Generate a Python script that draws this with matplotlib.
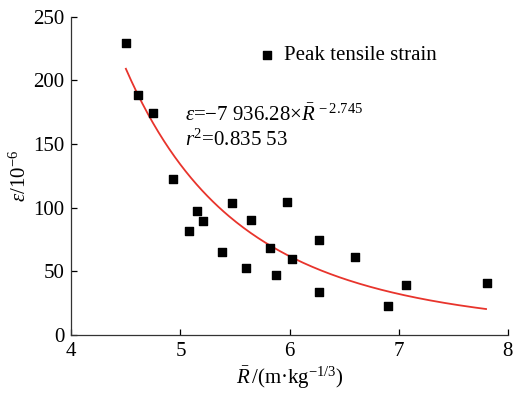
import numpy as np
import matplotlib
matplotlib.use('Agg')
import matplotlib.pyplot as plt

plt.rcParams['font.family'] = ['Liberation Serif', 'DejaVu Serif']
plt.rcParams['mathtext.fontset'] = 'custom'
plt.rcParams['mathtext.rm'] = 'Liberation Serif'
plt.rcParams['mathtext.it'] = 'Liberation Serif:italic'

# scaled distance vs peak tensile strain
r_scaled = [4.50, 4.61, 4.75, 4.93, 5.075, 5.155, 5.21, 5.38, 5.475, 5.60, 5.65,
            5.82, 5.88, 5.98, 6.02, 6.27, 6.27, 6.60, 6.90, 7.07, 7.81]
strain = [229.6, 188.0, 174.5, 122.4, 81.2, 97.0, 89.6, 65.3, 103.8, 52.9, 90.6,
          68.2, 47.2, 104.0, 59.5, 74.4, 34.0, 61.0, 23.0, 39.3, 40.9]

# power-law trend line
fit_a = 1.224e5
fit_b = -4.237
fit_range = (4.5, 7.8)

fs = 15

fig = plt.figure(figsize=(5.13, 3.94), dpi=100)
ax = fig.add_axes([0.139, 0.150, 0.851, 0.808])

xf = np.linspace(*fit_range, 200)
ax.plot(xf, fit_a * xf**fit_b, color='#e8342c', lw=1.3, zorder=2)
ax.scatter(r_scaled, strain, marker='s', s=30, color='black', zorder=3,
           label='Peak tensile strain')

ax.set_xlim(4, 8)
ax.set_ylim(0, 250)
ax.set_xticks([4, 5, 6, 7, 8])
ax.set_yticks([0, 50, 100, 150, 200, 250])
ax.tick_params(direction='in', length=4, width=0.9, labelsize=fs)
ax.tick_params(axis='x', pad=5)
ax.tick_params(axis='y', pad=5)
for s in ['top', 'right']:
    ax.spines[s].set_visible(False)
for s in ['left', 'bottom']:
    ax.spines[s].set_linewidth(0.9)
    ax.spines[s].set_color('#333333')

ax.set_xlabel(r'$\bar{R}\,$/(m·kg$^{-1/3}$)', fontsize=fs, labelpad=3)
ax.set_ylabel(r'$\varepsilon$/10$^{-6}$', fontsize=fs, labelpad=2)

ax.text(5.04, 168, r'$\varepsilon$=−7 936.28×$\bar{R}^{\,-2.745}$', fontsize=fs)
ax.text(5.04, 148.5, r'$r^2$=0.835 53', fontsize=fs)

ax.legend(loc='upper left', bbox_to_anchor=(0.41, 0.935), frameon=False,
          fontsize=fs, handlelength=0.8, handletextpad=0.4,
          markerscale=1.05, borderaxespad=0)

fig.savefig('out.png', dpi=100)
